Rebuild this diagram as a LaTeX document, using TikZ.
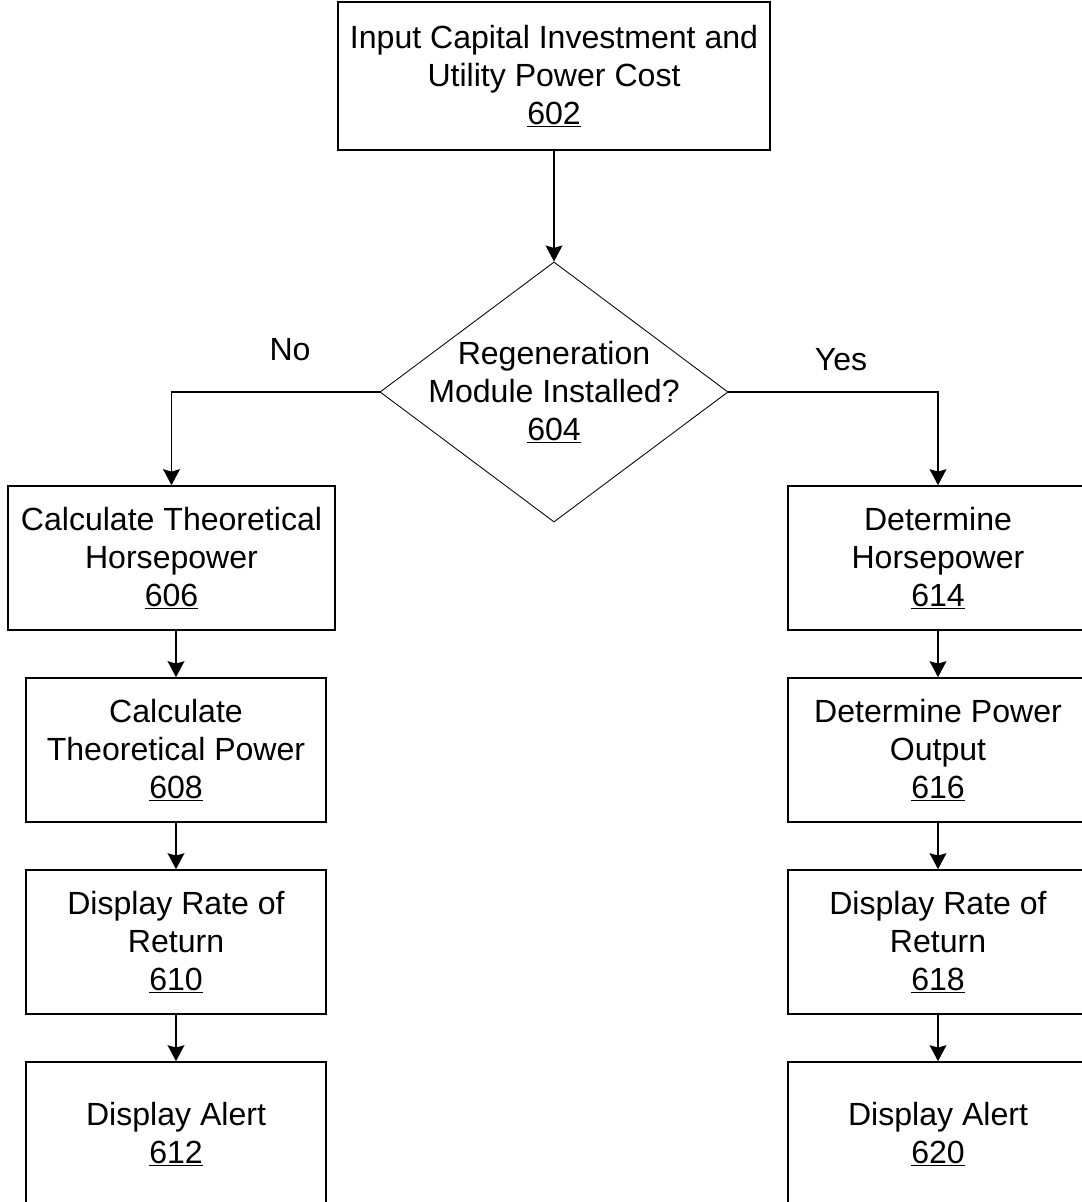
\documentclass[tikz,border=0pt]{standalone}
\usepackage{fontspec}
\setmainfont{Liberation Sans}
\usetikzlibrary{shapes.geometric,arrows.meta}

\begin{document}
\begin{tikzpicture}[x=0.025cm,y=-0.025cm,
  font=\fontsize{22.8}{27}\selectfont,
  box/.style={draw, line width=1.1pt, align=center, inner sep=0pt},
  decision/.style={draw, diamond, line width=0.6pt, inner sep=0pt,
    minimum width=8.7cm, minimum height=6.5cm},
  arr/.style={line width=1.1pt, -{Stealth[length=0.4cm,width=0.42cm,inset=0.06cm]}}]

% Define page
\useasboundingbox (0,0) rectangle (1082,1202);
\clip (0,0) rectangle (1082,1202);

% Top box and decision
\node[box, minimum width=10.8cm, minimum height=3.7cm] (n602) at (554,76)
  {Input Capital Investment and\\Utility Power Cost\\\underline{602}};
\node[decision] (n604) at (554,392) {};
\node[align=center] (t604) at (554,392) {Regeneration\\Module Installed?\\\underline{604}};

% Branch labels
\node (no) at (290,350) {No};
\node (yes) at (841,360) {Yes};

% Left column
\node[box, minimum width=8.175cm, minimum height=3.6cm] (n606) at (171.5,558)
  {Calculate Theoretical\\Horsepower\\\underline{606}};
\node[box, minimum width=7.5cm, minimum height=3.6cm] (n608) at (176,750)
  {Calculate\\Theoretical Power\\\underline{608}};
\node[box, minimum width=7.5cm, minimum height=3.6cm] (n610) at (176,942)
  {Display Rate of\\Return\\\underline{610}};
\node[box, minimum width=7.5cm, minimum height=3.6cm] (n612) at (176,1134)
  {Display Alert\\\underline{612}};

% Right column
\node[box, minimum width=7.5cm, minimum height=3.6cm] (n614) at (938,558)
  {Determine\\Horsepower\\\underline{614}};
\node[box, minimum width=7.5cm, minimum height=3.6cm] (n616) at (938,750)
  {Determine Power\\Output\\\underline{616}};
\node[box, minimum width=7.5cm, minimum height=3.6cm] (n618) at (938,942)
  {Display Rate of\\Return\\\underline{618}};
\node[box, minimum width=7.5cm, minimum height=3.6cm] (n620) at (938,1134)
  {Display Alert\\\underline{620}};

% Connectors
\draw[arr] (n602) -- (n604);
\draw[arr] (n604.west) -| (n606.north);
\draw[arr] (n604.east) -| (n614.north);
\draw[arr] (n606.south -| n608.north) -- (n608.north);
\draw[arr] (n608) -- (n610);
\draw[arr] (n610) -- (n612);
\draw[arr] (n614) -- (n616);
\draw[arr] (n616) -- (n618);
\draw[arr] (n618) -- (n620);

\end{tikzpicture}
\end{document}
